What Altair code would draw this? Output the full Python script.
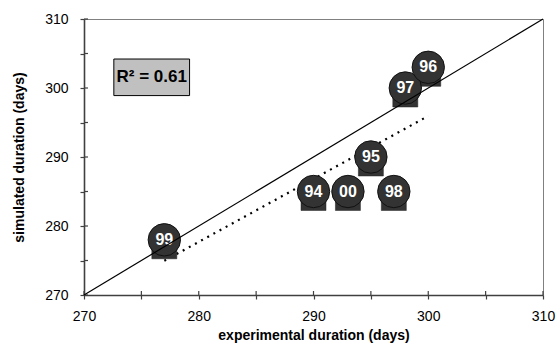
import altair as alt
import pandas as pd

# data
years = ["99", "94", "00", "98", "95", "97", "96"]
experimental = [277, 290, 293, 297, 295, 298, 300]
simulated = [278, 285, 285, 285, 290, 300, 303]

diag = [270, 310]
ticks = [270, 275, 280, 285, 290, 295, 300, 305, 310]
r2_text = ["R² = 0.61"]
r2_box_x = [272.6, 279.2]
r2_box_y = [298.9, 304.2]

pts = pd.DataFrame({"yr": years, "x": experimental, "y": simulated})
line_df = pd.DataFrame({"x": diag, "y": diag})
tick_df = pd.DataFrame({"t": ticks})
box_df = pd.DataFrame({"x": [r2_box_x[0]], "x2": [r2_box_x[1]],
                       "y": [r2_box_y[0]], "y2": [r2_box_y[1]], "t": r2_text})

FONT = "Liberation Sans"
AX = "#404040"
xs = alt.Scale(domain=diag, nice=False, zero=False)
ys = alt.Scale(domain=diag, nice=False, zero=False)

H = 276
W = 459

lbl = "datum.value % 10 == 0 ? datum.value : ''"
x_axis = alt.Axis(values=ticks, labelExpr=lbl, title="experimental duration  (days)",
                  grid=False, tickSize=4, tickColor=AX, tickWidth=1.2, domainColor=AX,
                  domainWidth=1.6, labelFontSize=14, labelPadding=10, titleFontSize=14,
                  titleFontWeight="bold", titlePadding=5, labelFont=FONT, titleFont=FONT,
                  labelColor="black", titleColor="black", labelFlush=False)
y_axis = alt.Axis(values=ticks, labelExpr=lbl, title="simulated duration  (days)",
                  grid=False, tickSize=4, tickColor=AX, tickWidth=1.2, domainColor=AX,
                  domainWidth=1.6, labelFontSize=14, labelPadding=12, titleFontSize=14,
                  titleFontWeight="bold", titlePadding=18, labelFont=FONT, titleFont=FONT,
                  labelColor="black", titleColor="black", labelFlush=False)

NX = alt.X("x:Q", scale=xs, axis=None)
NY = alt.Y("y:Q", scale=ys, axis=None)

base_pts = alt.Chart(pts)

reg = base_pts.transform_regression("x", "y").mark_line(
    color="black", strokeDash=[2, 5], strokeWidth=2.2
).encode(x=alt.X("x:Q", scale=xs, axis=x_axis), y=alt.Y("y:Q", scale=ys, axis=y_axis))

# inner halves of the crossing tick marks
xticks_in = alt.Chart(tick_df).mark_rule(color=AX, strokeWidth=1.2).encode(
    x=alt.X("t:Q", scale=xs, axis=None), y=alt.value(H - 4), y2=alt.value(H))
yticks_in = alt.Chart(tick_df).mark_rule(color=AX, strokeWidth=1.2).encode(
    y=alt.Y("t:Q", scale=ys, axis=None), x=alt.value(0), x2=alt.value(4))

squares = base_pts.mark_square(size=625, yOffset=6.5, fill="#333333", opacity=1,
                               stroke="#222222", strokeWidth=0.5).encode(x=NX, y=NY)
circles = base_pts.mark_circle(size=1050, fill="#333333", opacity=1,
                               stroke="#111111", strokeWidth=1).encode(x=NX, y=NY)
labels = base_pts.mark_text(color="white", fontWeight="bold", fontSize=16, font=FONT,
                            baseline="middle", align="center").encode(x=NX, y=NY, text="yr:N")

diag_line = alt.Chart(line_df).mark_line(color="black", strokeWidth=1.2).encode(x=NX, y=NY)

box = alt.Chart(box_df).mark_rect(fill="#c0c0c0", stroke="black", strokeWidth=1).encode(
    x=NX, x2="x2", y=NY, y2="y2")
box_text = alt.Chart(box_df).transform_calculate(
    cx="(datum.x + datum.x2) / 2", cy="(datum.y + datum.y2) / 2"
).mark_text(fontWeight="bold", fontSize=17, font=FONT, color="black",
            baseline="middle", align="center").encode(
    x=alt.X("cx:Q", scale=xs, axis=None), y=alt.Y("cy:Q", scale=ys, axis=None), text="t:N")

chart = alt.layer(
    reg, xticks_in, yticks_in, squares, circles, labels, diag_line, box, box_text
).resolve_axis(x="independent", y="independent").properties(
    width=W, height=H,
    autosize=alt.AutoSizeParams(type="none"),
    padding={"left": 84, "top": 19, "right": 14, "bottom": 50},
    background="white",
).configure_view(stroke="#808080", strokeWidth=1)

chart.save("out.html", embed_options={"renderer": "svg", "actions": False})
